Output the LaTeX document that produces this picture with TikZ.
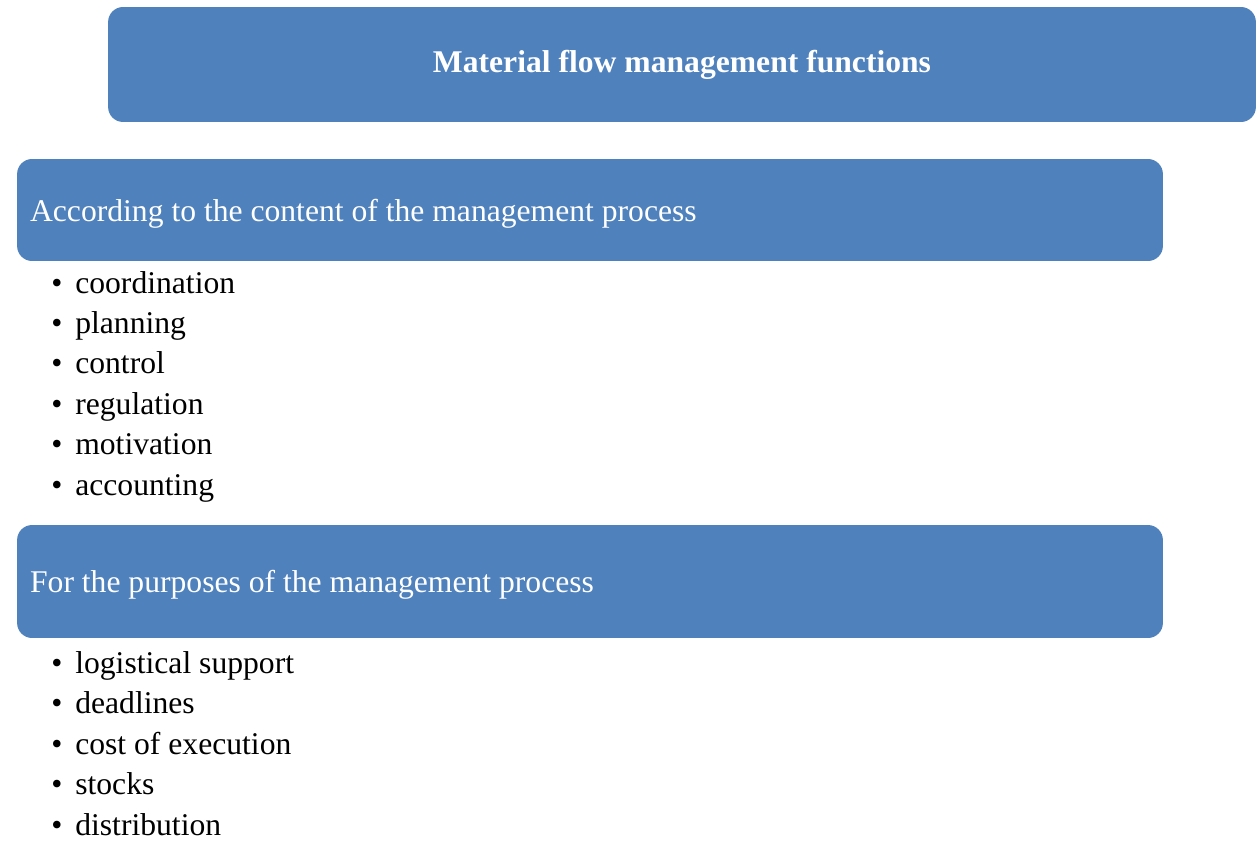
\documentclass[tikz,border=0pt]{standalone}
\usepackage{fontspec}
\setmainfont{Liberation Serif}
\usetikzlibrary{positioning}
\definecolor{headblue}{HTML}{4F81BD}

\begin{document}
\begin{tikzpicture}[x=0.02cm, y=-0.02cm,
        head/.style={fill=headblue, rounded corners=0.3cm, text=white, font=\fontsize{18}{22}\selectfont},
        sect/.style={head, minimum width=22.92cm, text width=22.4cm, inner xsep=0.26cm, align=flush left, text depth=0pt},
        item/.style={font=\fontsize{18}{22}\selectfont, anchor=base west, inner sep=0pt}
      ]
      \useasboundingbox (0,0) rectangle (1256,841);
      \node[head, minimum width=22.96cm, minimum height=2.3cm] (title) at (682,64.5) {\textbf{Material flow management functions}};
      \node[sect, minimum height=2.04cm] (content) at (590,210) {According to the content of the management process};
      \node[sect, minimum height=2.26cm] (purpose) at (590,581.5) {For the purposes of the management process};
      % items under each heading
      \foreach \t [count=\i] in {coordination, planning, control, regulation, motivation, accounting}
        \node[item] (c\i) at (51,{293+40.4*(\i-1)}) {\makebox[0.48cm][l]{\textbullet}\t};
      \foreach \t [count=\i] in {logistical support, deadlines, cost of execution, stocks, distribution}
        \node[item] (p\i) at (51,{673+40.5*(\i-1)}) {\makebox[0.48cm][l]{\textbullet}\t};
    \end{tikzpicture}
\end{document}
